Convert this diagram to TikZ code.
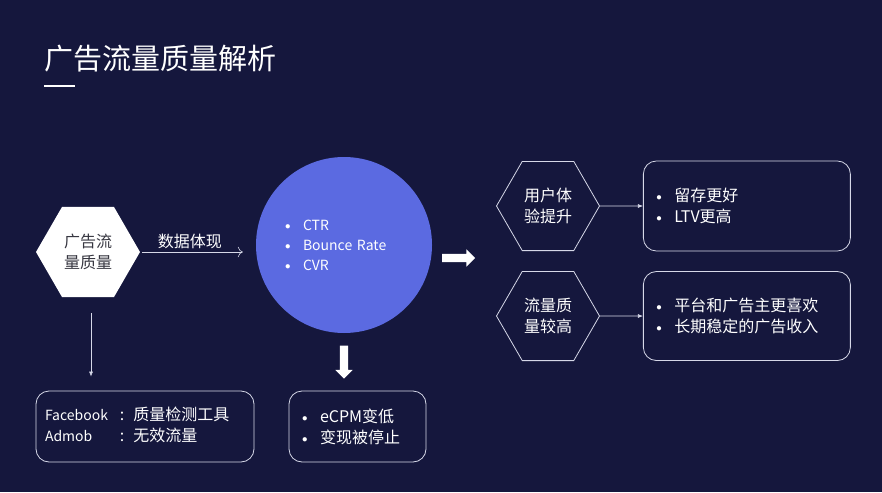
\documentclass[tikz,border=0pt]{standalone}
\usepackage{fontspec}
\setmainfont{Noto Sans CJK SC}
\usetikzlibrary{shapes.geometric}
\usetikzlibrary{shapes.arrows}
\usetikzlibrary{positioning}
\usetikzlibrary{arrows.meta}

\definecolor{bgnavy}{RGB}{21,23,61}
\definecolor{ballblue}{RGB}{91,106,225}
\definecolor{linegray}{RGB}{214,216,232}
\definecolor{hextext}{RGB}{55,55,65}

\newcommand{\bul}{\makebox[18pt][l]{\raisebox{1pt}{\fontsize{11}{11}\selectfont$\bullet$}}}

\begin{document}
\begin{tikzpicture}[
    x=1pt, y=-1pt,
    node distance=20pt and 43pt,
    every node/.style={font=\fontsize{16}{21}\selectfont, text=white},
    hexfill/.style={regular polygon, regular polygon sides=6, minimum size=104pt, inner sep=0pt, fill=white, text=hextext, align=center},
    hexline/.style={regular polygon, regular polygon sides=6, minimum size=103pt, inner sep=0pt, draw=linegray, line width=0.8pt, align=center},
    card/.style={draw=linegray, line width=0.8pt, rounded corners=13pt, align=left},
    link/.style={draw=linegray, line width=0.6pt, -{Latex[length=5pt,width=4pt]}},
    bigarrow/.style={single arrow, fill=white, inner sep=4pt, minimum width=17pt, single arrow head extend=4.5pt, minimum height=33pt}
]
\fill[bgnavy] (0,0) rectangle (882,492);

\node[anchor=west, font=\fontsize{29}{34}\selectfont] (title) at (41,59) {广告流量质量解析};
\draw[white, line width=2pt] (44,86) -- (75,86);

\node[hexfill] (adq) at (88,252) {广告流\\量质量};
\node[circle, fill=ballblue, minimum size=176pt, text width=118pt, align=left, font=\fontsize{14}{20}\selectfont] (metrics) at (344,245) {\bul CTR\\\bul Bounce Rate\\\bul CVR};

\node[hexline] (userexp) at (548,206) {用户体\\验提升};
\node[hexline, below=20pt of userexp] (highq) {流量质\\量较高};
\node[card, text width=181pt, inner xsep=13pt, minimum height=90pt, right=43pt of userexp] (retain) {\bul 留存更好\\\bul LTV更高};
\node[card, text width=181pt, inner xsep=13pt, minimum height=89pt, right=43pt of highq] (income) {\bul 平台和广告主更喜欢\\\bul 长期稳定的广告收入};

\node[card, text width=200pt, inner xsep=9pt, minimum height=71pt] (tools) at (145,426.5) {%
  \begin{tabular}{@{}l@{\hspace{12pt}}l@{\hspace{9pt}}l@{}}
  {\fontsize{14}{20}\selectfont Facebook} & : & 质量检测工具\\
  {\fontsize{14}{20}\selectfont Admob} & : & 无效流量
  \end{tabular}};
\node[card, text width=111pt, inner xsep=13pt, minimum height=71pt] (drop) at (357.5,426.5) {\bul eCPM变低\\\bul 变现被停止};

\node[bigarrow] (toright) at (456.5,258) {};
\node[bigarrow, shape border rotate=270] (todown) at (344,360) {};

\draw[link, -{To[length=5pt]}, shorten <=2pt, shorten >=13pt] (adq.east) -- (adq.east -| metrics.west)
    node[above, pos=0.43] (shown) {数据体现};
\coordinate (fall) at ([xshift=3pt,yshift=-16pt]adq.south);
\draw[link, shorten >=14pt] (fall) -- (fall |- tools.north);
\draw[link] (userexp) -- (retain);
\draw[link] (highq) -- (income);
\end{tikzpicture}
\end{document}
